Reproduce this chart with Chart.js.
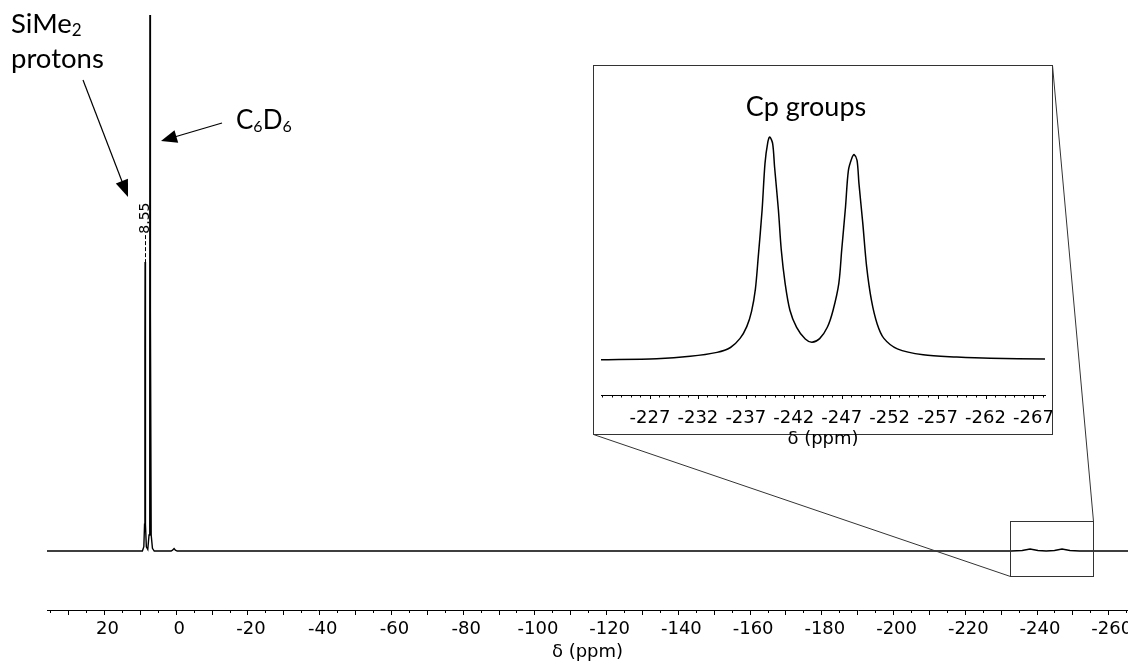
<!DOCTYPE html>
<html>
<head>
<meta charset="utf-8">
<script src="https://cdn.jsdelivr.net/npm/chart.js@4.4.1/dist/chart.umd.min.js"></script>
<style>
  html, body { margin: 0; padding: 0; background: #fff; overflow: hidden; width: 1128px; height: 661px; }
  #wrap { position: relative; width: 1128px; height: 661px; }
  #main { position: absolute; left: 0; top: 0; }
  #inset { position: absolute; left: 593px; top: 65px; }
</style>
</head>
<body>
<div id="wrap">
  <canvas id="main" width="1128" height="661"></canvas>
  <canvas id="inset" width="459" height="383"></canvas>
</div>
<script>
// ---------- data ----------
// Full spectrum: chemical shift (ppm) and intensity (% of plot height)
const mainShift = [35.9, 9.3, 8.9, 8.7, 8.6, 8.55, 8.5, 8.4, 8.2, 7.8, 7.45, 7.25, 7.16, 7.07, 6.85, 6.5, 6.0,
  1.3, 0.9, 0.47, 0.1, -0.4, -233, -236, -238.2, -240.4, -242.7, -245, -247.1, -249.3, -252, -265.5];
const mainIntensity = [0, 0, 0.8, 5, 38, 53.9, 38, 5, 0.8, 0.3, 3, 45, 160, 45, 3, 0.5, 0,
  0, 0.15, 0.45, 0.15, 0, 0, 0.1, 0.37, 0.1, 0, 0.1, 0.37, 0.1, 0, 0];
const mainTickLabels = [20, 0, -20, -40, -60, -80, -100, -120, -140, -160, -180, -200, -220, -240, -260];
const peakLabel = 8.55;

// Inset (Cp groups region)
const insetShift = [-221.9, -227.7, -231.2, -234.0, -235.4, -236.4, -237.1, -237.6, -238.0, -238.3, -238.7,
  -239.0, -239.3, -239.5, -239.8, -240.0, -240.4, -240.7, -241.1, -241.6, -242.3, -243.2, -243.9, -244.7,
  -245.5, -246.1, -246.7, -247.0, -247.4, -247.7, -248.1, -248.3, -248.6, -248.8, -249.2, -249.6, -250.1,
  -250.7, -251.4, -252.8, -255.5, -259.0, -262.5, -268.2];
const insetIntensity = [-0.3, 0.15, 1.2, 3.0, 5.2, 9.3, 14.6, 21.5, 31.5, 46.1, 67.1,
  88.0, 97.8, 100, 97.0, 86.5, 67.1, 49.1, 34.1, 22.0, 14.3, 9.0, 7.6, 9.2,
  14.3, 22.0, 34.1, 49.1, 68.6, 85.0, 91.0, 92.1, 89.5, 79.0, 61.1, 41.6, 26.5,
  15.8, 9.3, 4.6, 1.9, 0.9, 0.3, 0];
const insetTickLabels = [-227, -232, -237, -242, -247, -252, -257, -262, -267];

// ---------- helpers ----------
const NUM_FONT = 'DejaVu Sans';
const TXT_FONT = 'Lato';

function arrow(ctx, x1, y1, x2, y2, len, half) {
  const dx = x2 - x1, dy = y2 - y1, L = Math.hypot(dx, dy), ux = dx / L, uy = dy / L;
  const bx = x2 - ux * len, by = y2 - uy * len;
  ctx.beginPath(); ctx.moveTo(x1, y1); ctx.lineTo(bx + ux * 2, by + uy * 2); ctx.stroke();
  ctx.beginPath(); ctx.moveTo(x2, y2);
  ctx.lineTo(bx - uy * half, by + ux * half);
  ctx.lineTo(bx + uy * half, by - ux * half);
  ctx.closePath(); ctx.fill();
}
function subText(ctx, parts, x, y, big, small, drop) {
  for (const [t, sub] of parts) {
    ctx.font = (sub ? small : big) + 'px ' + TXT_FONT;
    ctx.fillText(t, x, y + (sub ? drop : 0));
    x += ctx.measureText(t).width;
  }
}

// ---------- main chart ----------
const mainTicks = [];
for (let v = -265; v <= 35; v += 5) mainTicks.push(v);

const mainPlugin = {
  id: 'mainDeco',
  afterDraw(chart) {
    const ctx = chart.ctx, xs = chart.scales.x, ys = chart.scales.y, ca = chart.chartArea;
    ctx.save();
    // tick marks
    ctx.strokeStyle = '#000'; ctx.lineWidth = 1;
    for (const v of mainTicks) {
      const px = Math.round(xs.getPixelForValue(v)) + 0.5;
      const len = (v % 10 === 0) ? 5 : 3;
      ctx.beginPath(); ctx.moveTo(px, ca.bottom); ctx.lineTo(px, ca.bottom + len); ctx.stroke();
    }
    // peak label 8.55 with dashed leader
    const lx = xs.getPixelForValue(peakLabel);
    const topY = ys.getPixelForValue(53.9);
    ctx.setLineDash([4, 2]);
    ctx.beginPath(); ctx.moveTo(Math.round(lx) + 0.5, topY - 27); ctx.lineTo(Math.round(lx) + 0.5, topY); ctx.stroke();
    ctx.setLineDash([]);
    ctx.save();
    ctx.translate(lx, topY - 44);
    ctx.rotate(-Math.PI / 2);
    ctx.fillStyle = '#000';
    ctx.font = '14px ' + NUM_FONT;
    ctx.textAlign = 'center'; ctx.textBaseline = 'middle';
    ctx.fillText(String(peakLabel), 0, 0);
    ctx.restore();

    // annotations
    ctx.fillStyle = '#000'; ctx.textBaseline = 'alphabetic'; ctx.textAlign = 'left';
    subText(ctx, [['SiMe', false], ['2', true]], 11, 33, 27.5, 17, 3);
    ctx.font = '27.5px ' + TXT_FONT;
    ctx.fillText('protons', 11, 68);
    subText(ctx, [['C', false], ['6', true], ['D', false], ['6', true]], 236, 129, 26, 16, 3);
    ctx.strokeStyle = '#000'; ctx.lineWidth = 1.2;
    arrow(ctx, 83, 80, 128, 197, 17, 6.5);
    arrow(ctx, 222, 123, 161, 141, 16, 6.5);

    // inset frame, zoom box and connecting lines
    ctx.strokeStyle = '#333'; ctx.lineWidth = 1;
    ctx.strokeRect(593.5, 65.5, 459, 369);
    ctx.strokeRect(1010.5, 521.5, 83, 55);
    ctx.beginPath();
    ctx.moveTo(593.5, 434.5); ctx.lineTo(1010.5, 576.5);
    ctx.moveTo(1052.5, 65.5); ctx.lineTo(1093.5, 521.5);
    ctx.stroke();
    ctx.restore();
  }
};

new Chart(document.getElementById('main'), {
  type: 'line',
  data: {
    datasets: [{
      data: mainShift.map((x, i) => ({ x: x, y: mainIntensity[i] })),
      borderColor: '#000', borderWidth: 1.4, pointRadius: 0, tension: 0, fill: false
    }]
  },
  options: {
    responsive: false, animation: false, events: [],
    layout: { padding: { left: 47, right: 0, top: 15, bottom: 0 } },
    plugins: { legend: { display: false }, tooltip: { enabled: false } },
    scales: {
      x: {
        type: 'linear', reverse: true, min: -265.5, max: 35.9,
        afterBuildTicks: (s) => { s.ticks = mainTicks.map(v => ({ value: v })); },
        afterFit: (s) => { s.height = 51; },
        ticks: {
          autoSkip: false, maxRotation: 0, minRotation: 0, padding: 4, labelOffset: 3.5,
          color: '#000', font: { family: NUM_FONT, size: 18 },
          callback: (v) => mainTickLabels.includes(v) ? String(v) : ''
        },
        grid: { display: true, drawOnChartArea: false, drawTicks: true, tickLength: 5, tickColor: 'rgba(0,0,0,0)' },
        border: { display: true, color: '#000', width: 1 },
        title: { display: true, text: 'δ (ppm)', color: '#000', font: { family: NUM_FONT, size: 18, lineHeight: 1 }, padding: 0 }
      },
      y: { display: false, min: -11.0, max: 100 }
    }
  },
  plugins: [mainPlugin]
});

// ---------- inset chart ----------
const insetTicks = [];
for (let v = -268; v <= -222; v += 1) insetTicks.push(v);

const insetPlugin = {
  id: 'insetDeco',
  afterDraw(chart) {
    const ctx = chart.ctx, xs = chart.scales.x, ca = chart.chartArea;
    ctx.save();
    ctx.strokeStyle = '#000'; ctx.lineWidth = 1;
    for (const v of insetTicks) {
      const px = Math.round(xs.getPixelForValue(v)) + 0.5;
      const len = insetTickLabels.includes(v) ? 4 : 2.5;
      ctx.beginPath(); ctx.moveTo(px, ca.bottom); ctx.lineTo(px, ca.bottom + len); ctx.stroke();
    }
    ctx.fillStyle = '#000';
    ctx.font = '27px ' + TXT_FONT;
    ctx.textAlign = 'center'; ctx.textBaseline = 'alphabetic';
    ctx.fillText('Cp groups', 806 - 593, 116 - 65);
    ctx.restore();
  }
};

new Chart(document.getElementById('inset'), {
  type: 'line',
  data: {
    datasets: [{
      data: insetShift.map((x, i) => ({ x: x, y: insetIntensity[i] })),
      borderColor: '#000', borderWidth: 1.5, pointRadius: 0, tension: 0.3, fill: false
    }]
  },
  options: {
    responsive: false, animation: false, events: [],
    layout: { padding: { left: 8, right: 7, top: 49.8, bottom: 0 } },
    plugins: { legend: { display: false }, tooltip: { enabled: false } },
    scales: {
      x: {
        type: 'linear', reverse: true, min: -268.2, max: -221.9,
        afterBuildTicks: (s) => { s.ticks = insetTicks.map(v => ({ value: v })); },
        afterFit: (s) => { s.height = 53; },
        ticks: {
          autoSkip: false, maxRotation: 0, minRotation: 0, padding: 9,
          color: '#000', font: { family: NUM_FONT, size: 18 },
          callback: (v) => insetTickLabels.includes(v) ? String(v) : ''
        },
        grid: { display: true, drawOnChartArea: false, drawTicks: true, tickLength: 4, tickColor: 'rgba(0,0,0,0)' },
        border: { display: true, color: '#000', width: 1 },
        title: { display: true, text: 'δ (ppm)', color: '#000', font: { family: NUM_FONT, size: 18, lineHeight: 1 }, padding: 0 }
      },
      y: { display: false, min: -16.2, max: 110 }
    }
  },
  plugins: [insetPlugin]
});
</script>
</body>
</html>
